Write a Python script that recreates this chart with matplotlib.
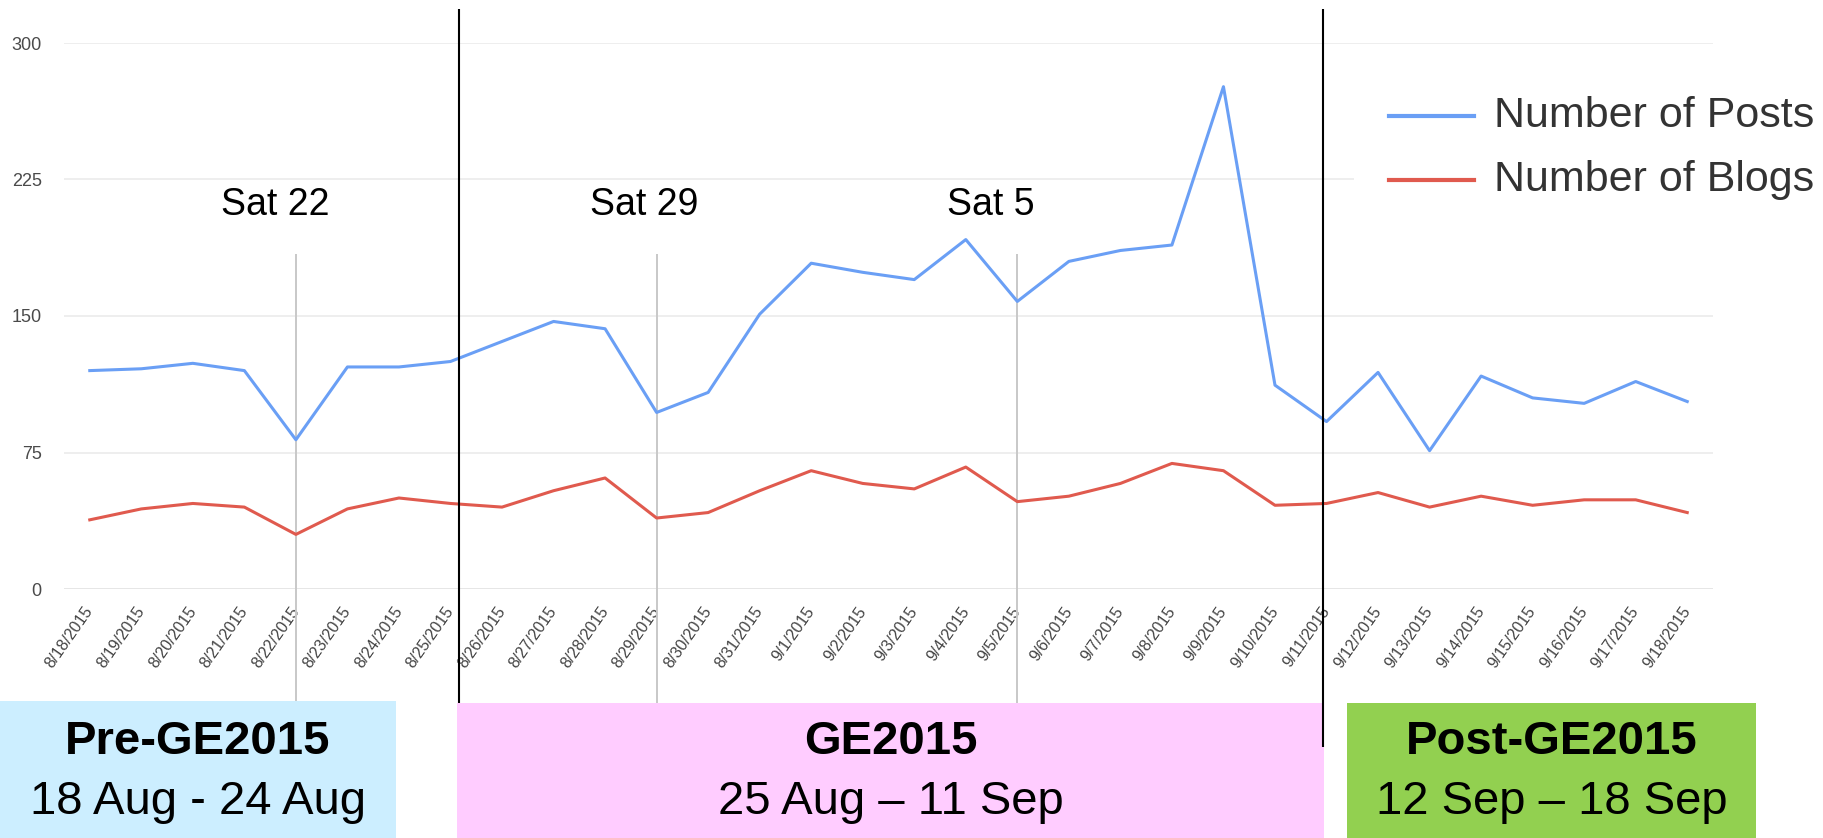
import matplotlib.pyplot as plt
from matplotlib.patches import Rectangle
from matplotlib.lines import Line2D

plt.rcParams['font.family'] = ['Liberation Sans', 'DejaVu Sans']

# data
dates = ['8/18/2015', '8/19/2015', '8/20/2015', '8/21/2015', '8/22/2015', '8/23/2015',
         '8/24/2015', '8/25/2015', '8/26/2015', '8/27/2015', '8/28/2015', '8/29/2015',
         '8/30/2015', '8/31/2015', '9/1/2015', '9/2/2015', '9/3/2015', '9/4/2015',
         '9/5/2015', '9/6/2015', '9/7/2015', '9/8/2015', '9/9/2015', '9/10/2015',
         '9/11/2015', '9/12/2015', '9/13/2015', '9/14/2015', '9/15/2015', '9/16/2015',
         '9/17/2015', '9/18/2015']
posts = [120, 121, 124, 120, 82, 122, 122, 125, 136, 147, 143, 97,
         108, 151, 179, 174, 170, 192, 158, 180, 186, 189, 276, 112,
         92, 119, 76, 117, 105, 102, 114, 103]
blogs = [38, 44, 47, 45, 30, 44, 50, 47, 45, 54, 61, 39,
         42, 54, 65, 58, 55, 67, 48, 51, 58, 69, 65, 46,
         47, 53, 45, 51, 46, 49, 49, 42]

saturdays = ['8/22/2015', '8/29/2015', '9/5/2015']
sat_labels = ['Sat 22', 'Sat 29', 'Sat 5']
sat_shift = [-0.4, -0.25, -0.52]

# boundaries between periods (in category units)
bounds = [7.17, 23.93]
period_names = ['Pre-GE2015', 'GE2015', 'Post-GE2015']
period_ranges = ['18 Aug - 24 Aug', '25 Aug \u2013 11 Sep', '12 Sep \u2013 18 Sep']
period_colors = ['#cceeff', '#ffccff', '#92d050']

W, H = 1823, 838
fig = plt.figure(figsize=(W / 100, H / 100), dpi=100)
ax = fig.add_axes([64 / W, 1 - 589 / H, (1713 - 64) / W, (589 - 43) / H])

x = list(range(len(dates)))
ax.plot(x, posts, color='#6a9ff5', lw=2.2, zorder=3, label='Number of Posts')
ax.plot(x, blogs, color='#e05a4e', lw=2.2, zorder=3, label='Number of Blogs')

ax.set_xlim(-0.5, len(dates) - 0.5)
ax.set_ylim(0, 300)
ax.set_yticks([0, 75, 150, 225, 300])
ax.yaxis.grid(True, color='#ebebeb', lw=1.2)
ax.axhline(0, color='#cccccc', lw=1.3, zorder=1)
for s in ax.spines.values():
    s.set_visible(False)
ax.set_xticks(x, dates, rotation=55, ha='right', va='center', rotation_mode='anchor')
ax.tick_params(axis='x', length=0, pad=14, labelsize=11.5, labelcolor='#444444')
ax.tick_params(axis='y', length=0, pad=16, labelsize=13, labelcolor='#4a4a4a')


def fx(px):
    return px / W


def fy(py):
    return 1 - py / H


# saturday markers
for d, lab, sh in zip(saturdays, sat_labels, sat_shift):
    i = dates.index(d)
    ax.vlines(i, -140, 184, color='#c8c8c8', lw=1.4, clip_on=False, zorder=2)
    ax.text(i + sh, 211, lab, ha='center', va='center', fontsize=27, clip_on=False)

# period separators
ax.vlines(bounds[0], -63, 318.5, color='black', lw=1.5, clip_on=False, zorder=4)
ax.vlines(bounds[1], -87, 318.5, color='black', lw=1.5, clip_on=False, zorder=7)

# period boxes
boxes = [(0, 396, 701), (457, 1324, 703), (1347, 1756, 703)]
for (x0, x1, y0), name, rng, c in zip(boxes, period_names, period_ranges, period_colors):
    ax.add_patch(Rectangle((fx(x0), 0), fx(x1 - x0), fy(y0), transform=fig.transFigure,
                           facecolor=c, edgecolor='none', clip_on=False, zorder=5))
    cx = fx((x0 + x1) / 2)
    ax.text(cx, fy(742), name, transform=fig.transFigure, ha='center', va='center',
            fontsize=34, fontweight='bold', zorder=6, clip_on=False)
    ax.text(cx, fy(802), rng, transform=fig.transFigure, ha='center', va='center',
            fontsize=34, zorder=6, clip_on=False)

# legend
ax.add_patch(Rectangle((fx(1354), fy(212)), fx(W - 1354), (212 - 88) / H,
                       transform=fig.transFigure, facecolor='white', edgecolor='none',
                       clip_on=False, zorder=5))
for ly, line in zip([116, 180], ax.get_lines()[:2]):
    ax.add_line(Line2D([fx(1389), fx(1474)], [fy(ly), fy(ly)], transform=fig.transFigure,
                       color=line.get_color(), lw=3, clip_on=False, zorder=6))
    ax.text(fx(1494), fy(ly), line.get_label(), transform=fig.transFigure, ha='left',
            va='center', fontsize=31, color='#333333', zorder=6, clip_on=False)

fig.savefig('out.png', dpi=100)
